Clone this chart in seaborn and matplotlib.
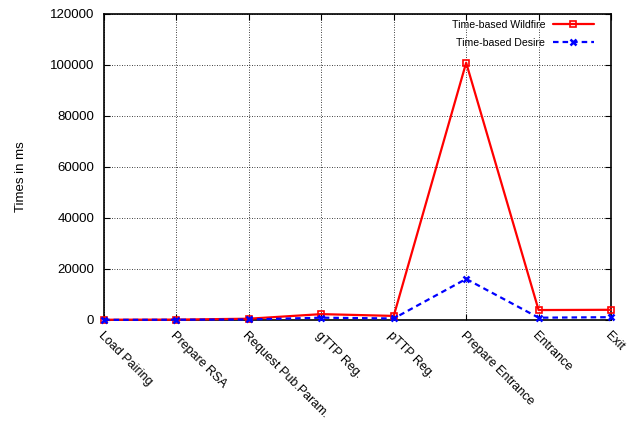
import matplotlib
matplotlib.use("Agg")
import matplotlib.pyplot as plt
import seaborn as sns
import pandas as pd

steps = ["Load Pairing", "Prepare RSA", "Request Pub.Param.", "gTTP Reg.",
         "pTTP Reg.", "Prepare Entrance", "Entrance", "Exit"]
wildfire = [100, 150, 500, 2300, 1600, 100900, 3900, 4000]
desire = [50, 100, 200, 900, 600, 16100, 900, 1100]
y_ticks = [0, 20000, 40000, 60000, 80000, 100000, 120000]

sns.set_style("white")
plt.rcParams["font.family"] = ["Liberation Sans", "DejaVu Sans"]
plt.rcParams["text.color"] = "black"
plt.rcParams["xtick.color"] = "black"
plt.rcParams["ytick.color"] = "black"
plt.rcParams["axes.labelcolor"] = "black"

df = pd.DataFrame({
    "pos": list(range(len(steps))) * 2,
    "ms": wildfire + desire,
    "series": ["Time-based Wildfire"] * len(steps) + ["Time-based Desire"] * len(steps),
})

fig = plt.figure(figsize=(6.32, 4.24), dpi=100)
ax = fig.add_axes([0.1646, 0.2453, 0.8022, 0.7217])

sns.lineplot(data=df[df.series == "Time-based Wildfire"], x="pos", y="ms", ax=ax,
             color="#ff0000", linewidth=1.6, marker="s", markersize=4.5,
             markerfacecolor="none", markeredgecolor="#ff0000", markeredgewidth=1.2,
             label="Time-based Wildfire", clip_on=False, zorder=3)
sns.lineplot(data=df[df.series == "Time-based Desire"], x="pos", y="ms", ax=ax,
             color="#0000ff", linewidth=1.6, linestyle=(0, (2.5, 1.8)), marker="x",
             markersize=4.5, markeredgewidth=1.8, markeredgecolor="#0000ff",
             label="Time-based Desire", clip_on=False, zorder=4)

ax.set_xlim(0, len(steps) - 1)
ax.set_ylim(0, 120000)
ax.set_yticks(y_ticks)
ax.set_yticklabels([str(v) for v in y_ticks], fontsize=9.5)
ax.set_xticks(range(len(steps)))
ax.set_xticklabels(steps, rotation=-45, ha="left", va="top",
                   rotation_mode="anchor", fontsize=9)
ax.set_xlabel("")
ax.set_ylabel("Times in ms", fontsize=9.5)
ax.yaxis.set_label_coords(-0.152, 0.47)

ax.grid(True, color="black", linestyle=(0, (1, 2)), linewidth=0.6)
ax.tick_params(direction="in", length=4, width=0.8, top=True, right=True,
               bottom=True, left=True, pad=7)
for s in ax.spines.values():
    s.set_color("black")
    s.set_linewidth(1.2)

leg = ax.legend(loc="upper right", frameon=False, markerfirst=False,
                fontsize=7.6, handlelength=3.9, handletextpad=0.7,
                borderaxespad=0.5, labelspacing=0.75,
                bbox_to_anchor=(0.985, 1.012))

fig.savefig("out.png", dpi=100)
